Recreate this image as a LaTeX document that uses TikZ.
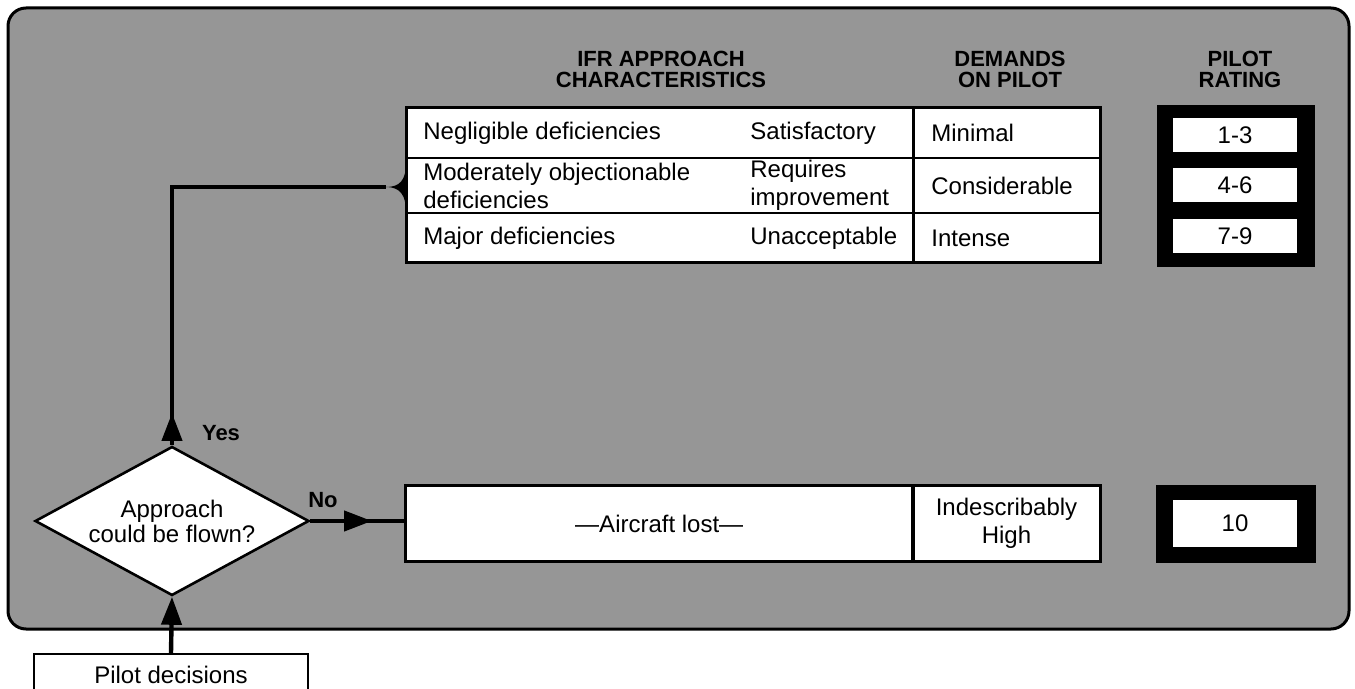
\documentclass[tikz,border=0pt]{standalone}
\usepackage{fontspec}
\setmainfont{Liberation Sans}
\usetikzlibrary{arrows.meta,shapes.geometric}
\definecolor{halftone}{RGB}{150, 150, 150}
\newcommand{\bodyfont}{\fontsize{12}{14}\selectfont}
\newcommand{\headfont}{\fontsize{11}{10.5}\selectfont\bfseries}

\begin{document}
\begin{tikzpicture}[x=0.5pt, y=-0.5pt, font=\bodyfont,
        flow/.style={line width=2.2pt},
        flowtip/.style={line width=2.2pt, -{Triangle[length=14pt, width=10pt]}},
        head/.style={font=\headfont, align=center, anchor=south, inner sep=0pt},
        cell/.style={anchor=west, align=left, inner sep=0pt},
        box/.style={draw, fill=white, line width=1.5pt, inner sep=0pt, align=center},
        rate/.style={fill=white, minimum width=62pt, inner sep=0pt}]
            \useasboundingbox                                              (0,0) rectangle (1355,689);
            \filldraw[line width=1.5pt, fill=halftone, rounded corners=9pt] (8,8) rectangle (1349,629);

            \node[head] (hchar) at ( 661,88) {IFR APPROACH\\CHARACTERISTICS};
            \node[head] (hdem)  at (1010,88) {DEMANDS\\ON PILOT};
            \node[head] (hrate) at (1240,88) {PILOT\\RATING};

            \filldraw[fill=white, line width=1.5pt] (406,108) rectangle (1100,263);
            \draw[line width=1.2pt]                 (406,158) -- (1100,158) (406,213) -- (1100,213);
            \draw[line width=1.5pt]                 (913,108) -- (913,263);
            \node[cell] (neg)   at (423,133)   {Negligible deficiencies};
            \node[cell] (mod)   at (423,185.5) {Moderately objectionable\\deficiencies};
            \node[cell] (maj)   at (423,238)   {Major deficiencies};
            \node[cell] (sat)   at (750,133)   {Satisfactory};
            \node[cell] (req)   at (750,185.5) {Requires\\improvement};
            \node[cell] (unacc) at (750,238)   {Unacceptable};
            \node[cell] (mini)  at (931,133)   {Minimal};
            \node[cell] (cons)  at (931,185.5) {Considerable};
            \node[cell] (inten) at (931,238)   {Intense};

            \fill                                   (1157,105) rectangle (1315,267);
            \node[rate, minimum height=17pt] (r13) at (1235,135.5) {1-3};
            \node[rate, minimum height=17pt] (r46) at (1235,185)   {4-6};
            \node[rate, minimum height=17pt] (r79) at (1235,236)   {7-9};

            \node[box, minimum width=253.5pt, minimum height=37.5pt] (lost) at (659.25,523.5) {—Aircraft lost—};
            \node[box, minimum width=93.5pt,  minimum height=37.5pt] (high) at (1006.5,523.5) {Indescribably\\High};
            \fill                                   (1156,485) rectangle (1316,563);
            \node[rate, minimum height=23.5pt] (r10) at (1235,523.5) {10};

            \node[diamond, draw, fill=white, line width=1.3pt, aspect=1.84, inner sep=0pt,
                  minimum width=137pt, minimum height=74.5pt, align=center,
                  font=\fontsize{12}{12.5}\selectfont] (appr) at (172,521) {Approach\\could be flown?};
            \node[draw, fill=white, line width=1.2pt, minimum width=137pt, minimum height=21pt,
                  anchor=north] (pilot) at (171,653) {Pilot decisions};

            \coordinate (brace)  at (386,187);
            \coordinate (yestip) at (172,413);
            \coordinate (notip)  at (372,521);
            \fill (brace) .. controls (400,187) and (406,180) .. (406,163) -- (406,212)
                          .. controls (406,195) and (400,187) .. (brace) -- cycle;
            \draw[flow]    (appr.north) |- (brace);
            \draw[flowtip] (appr.north) -- (yestip);
            \draw[flow]    (appr.east) -- (appr.east -| lost.west);
            \draw[flowtip] (appr.east) -- (notip);
            \draw[flowtip] (pilot.north) -- (appr.south);

            \node[font=\headfont] (yes) at (221,433) {Yes};
            \node[font=\headfont] (no)  at (323,500) {No};
        \end{tikzpicture}
\end{document}
